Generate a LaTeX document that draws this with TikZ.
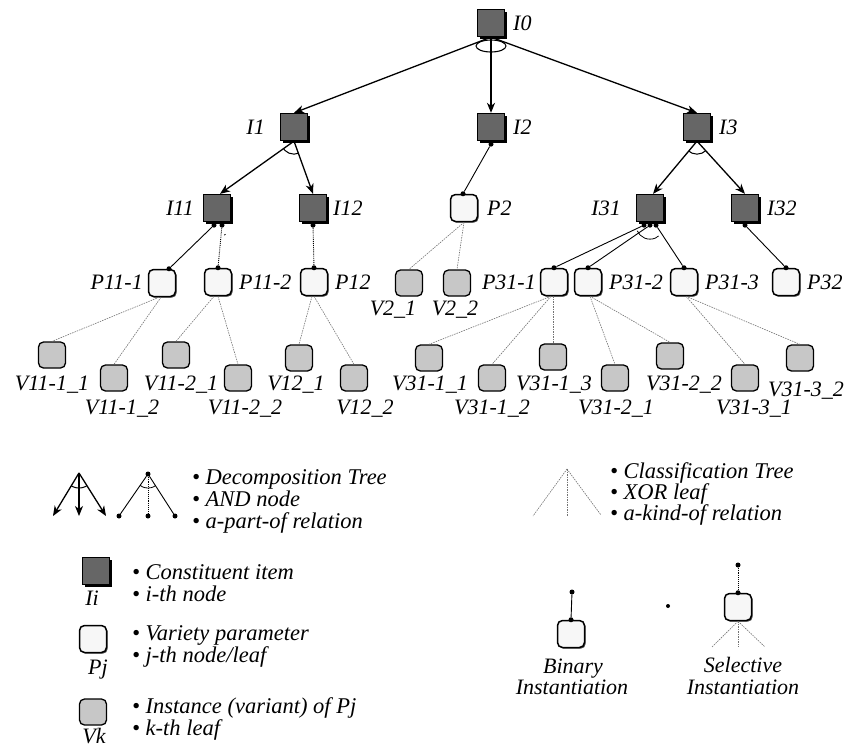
\documentclass[tikz,border=0pt]{standalone}
\usepackage{fontspec}
\setmainfont{Liberation Serif}
\usetikzlibrary{arrows.meta,calc,shadows}

\begin{document}
\begin{tikzpicture}[x=1pt,y=-1pt,
  item/.style={draw=black, line width=1.3pt, fill=black!60, minimum size=27pt, inner sep=0pt,
    drop shadow={shadow xshift=2.5pt, shadow yshift=-2.5pt, fill=black, opacity=1}},
  param/.style={draw=black, line width=1.5pt, fill=black!3, rounded corners=5pt, minimum size=27pt, inner sep=0pt,
    drop shadow={shadow xshift=1.2pt, shadow yshift=-1.2pt, fill=black!70, opacity=1}},
  inst/.style={draw=black, line width=1.3pt, fill=black!22, rounded corners=5pt,
    minimum width=27pt, minimum height=26pt, inner sep=0pt},
  dot/.style={circle, fill=black, inner sep=0pt, minimum size=5pt},
  lbl/.style={font=\fontsize{22}{24}\selectfont\itshape, inner sep=0pt},
  leg/.style={font=\fontsize{22.5}{24}\selectfont\itshape, inner sep=0pt, anchor=base west},
  part/.style={-{Stealth[length=10pt,width=8pt,inset=3pt]}, line width=1.3pt},
  bin/.style={line width=0.9pt},
  kind/.style={draw=black!55, line width=0.6pt, dash pattern=on 1.5pt off 1pt},
]
\fill[white] (0,0) rectangle (847,748);
\useasboundingbox (0,0) rectangle (847,748);

% ---------- constituent items ----------
\node[item] (I0)  at (491,23)  {};
\node[item] (I1)  at (294,127) {};
\node[item] (I2)  at (491,127) {};
\node[item] (I3)  at (697,127) {};
\node[item] (I11) at (217,208) {};
\node[item] (I12) at (313,208) {};
\node[item] (I31) at (650,208) {};
\node[item] (I32) at (745,208) {};

% ---------- variety parameters ----------
\node[param] (P2)   at (464,208) {};
\node[param] (P111) at (162,283) {};
\node[param] (P112) at (218,282) {};
\node[param] (P12)  at (314,282) {};
\node[param] (P311) at (554,282) {};
\node[param] (P312) at (588,282) {};
\node[param] (P313) at (684,282) {};
\node[param] (P32)  at (786,282) {};

% ---------- instances ----------
\node[inst] (V21)   at (409,283) {};
\node[inst] (V22)   at (457,283) {};
\node[inst] (V1111) at (52,355)  {};
\node[inst] (V1112) at (114,378) {};
\node[inst] (V1121) at (176,355) {};
\node[inst] (V1122) at (238,378) {};
\node[inst] (V121)  at (299,358) {};
\node[inst] (V122)  at (354,378) {};
\node[inst] (V3111) at (429,358) {};
\node[inst] (V3112) at (492,378) {};
\node[inst] (V3113) at (553,357) {};
\node[inst] (V3121) at (615,378) {};
\node[inst] (V3122) at (670,356) {};
\node[inst] (V3131) at (745,378) {};
\node[inst] (V3132) at (800,358) {};

% ---------- labels ----------
\node[lbl, anchor=base west] (tI0)  at (513,30.5)  {I0};
\node[lbl, anchor=base east] (tI1)  at (265,134.5) {I1};
\node[lbl, anchor=base west] (tI2)  at (513,134.5) {I2};
\node[lbl, anchor=base west] (tI3)  at (719,134.5) {I3};
\node[lbl, anchor=base east] (tI11) at (194,215.5) {I11};
\node[lbl, anchor=base west] (tI12) at (333,215.5) {I12};
\node[lbl, anchor=base west] (tP2)  at (487,215.5) {P2};
\node[lbl, anchor=base east] (tI31) at (621,215.5) {I31};
\node[lbl, anchor=base west] (tI32) at (767,215.5) {I32};
\node[lbl, anchor=base east] (tP111) at (143,289.5) {P11-1};
\node[lbl, anchor=base west] (tP112) at (239,289.5) {P11-2};
\node[lbl, anchor=base west] (tP12)  at (335,289.5) {P12};
\node[lbl, anchor=base east] (tP311) at (536,289.5) {P31-1};
\node[lbl, anchor=base west] (tP312) at (609,289.5) {P31-2};
\node[lbl, anchor=base west] (tP313) at (705,289.5) {P31-3};
\node[lbl, anchor=base west] (tP32)  at (807,289.5) {P32};
\node[lbl, anchor=base] (tV21)  at (393,315.5) {V2\_1};
\node[lbl, anchor=base] (tV22)  at (455,315.5) {V2\_2};
\node[lbl, anchor=base] (tV1111) at (52,390.5)  {V11-1\_1};
\node[lbl, anchor=base] (tV1121) at (181,390.5) {V11-2\_1};
\node[lbl, anchor=base] (tV121)  at (296,390.5) {V12\_1};
\node[lbl, anchor=base] (tV3111) at (430,390.5) {V31-1\_1};
\node[lbl, anchor=base] (tV3113) at (554,390.5) {V31-1\_3};
\node[lbl, anchor=base] (tV3122) at (684,390.5) {V31-2\_2};
\node[lbl, anchor=base] (tV3132) at (806,396.5) {V31-3\_2};
\node[lbl, anchor=base] (tV1112) at (122,414.5) {V11-1\_2};
\node[lbl, anchor=base] (tV1122) at (245,414.5) {V11-2\_2};
\node[lbl, anchor=base] (tV122)  at (365,414.5) {V12\_2};
\node[lbl, anchor=base] (tV3112) at (492,414.5) {V31-1\_2};
\node[lbl, anchor=base] (tV3121) at (616,414.5) {V31-2\_1};
\node[lbl, anchor=base] (tV3131) at (754,414.5) {V31-3\_1};

% ---------- decomposition (AND) arrows ----------
\draw[part] (I0.south) -- (I1.north);
\draw[part] (I0.south) -- (I2.north);
\draw[part] (I0.south) -- (I3.north);
\draw[line width=1.1pt] (491,46) ellipse[x radius=15pt, y radius=6pt];

\coordinate (I11t) at ($(I11.north)+(3,0)$);
\draw[part] (I1.south) -- (I11t);
\draw[part] (I1.south) -- (I12.north);
\begin{scope}
  \clip (I1.south) -- ($(I1.south)!3!(I11t)$) -- ($(I1.south)!3!(I12.north)$) -- cycle;
  \draw[line width=1pt] (I1.south) circle[radius=13pt];
\end{scope}

\coordinate (I31t) at ($(I31.north)+(3,0)$);
\draw[part] (I3.south) -- (I31t);
\draw[part] (I3.south) -- (I32.north);
\begin{scope}
  \clip (I3.south) -- ($(I3.south)!3!(I31t)$) -- ($(I3.south)!3!(I32.north)$) -- cycle;
  \draw[line width=1pt] (I3.south) circle[radius=13pt];
\end{scope}

% ---------- binary instantiation links ----------
\node[dot] (dI2)   at ($(I2.south)+(0,3)$) {};
\node[dot] (dP2)   at ($(P2.north)+(-1,0)$) {};
\draw[bin] (dI2) -- (dP2);

\node[dot] (dI11a) at ($(I11.south)+(-3,3)$) {};
\node[dot] (dI11b) at ($(I11.south)+(5,3)$) {};
\node[dot] (dP111) at ($(P111.north)+(7,0)$) {};
\node[dot] (dP112) at (P112.north) {};
\draw[bin] (dI11a) -- (dP111);
\draw[bin, densely dotted] (dI11b) -- (dP112);
\begin{scope}
  \clip ($(I11.south)+(1,3)$) -- ($(I11.south)+(1,3)!4!(dP111)$) -- ($(I11.south)+(1,3)!4!(dP112)$) -- cycle;
  \draw[line width=0.8pt] ($(I11.south)+(1,3)$) circle[radius=12pt];
\end{scope}

\node[dot] (dI12) at ($(I12.south)+(0,3)$) {};
\node[dot] (dP12) at (P12.north) {};
\draw[bin, densely dotted] (dI12) -- (dP12);

\node[dot] (dI31a) at ($(I31.south)+(-6,3)$) {};
\node[dot] (dI31b) at ($(I31.south)+(0,3)$) {};
\node[dot] (dI31c) at ($(I31.south)+(6,3)$) {};
\node[dot] (dP311) at (P311.north) {};
\node[dot] (dP312) at (P312.north) {};
\node[dot] (dP313) at (P313.north) {};
\draw[bin] (dI31a) -- (dP311);
\draw[bin] (dI31b) -- (dP312);
\draw[bin] (dI31c) -- (dP313);
\begin{scope}
  \clip (dI31b.center) -- ($(dI31b.center)!4!(dP311)$) -- ($(dI31b.center)!4!(dP313)$) -- cycle;
  \draw[line width=0.8pt] (dI31b.center) circle[radius=14pt];
\end{scope}

\node[dot] (dI32) at ($(I32.south)+(0,3)$) {};
\node[dot] (dP32) at (P32.north) {};
\draw[bin] (dI32) -- (dP32);

% ---------- classification (XOR) links ----------
\draw[kind] (P2.south) -- (V21.north);
\draw[kind] (P2.south) -- (V22.north);
\draw[kind] ($(P111.south)+(-3,0)$) -- (V1111.north);
\draw[kind] ($(P111.south)+(-1,0)$) -- (V1112.north);
\draw[kind] ($(P112.south)+(-4,0)$) -- (V1121.north);
\draw[kind] (P112.south) -- (V1122.north);
\draw[kind] ($(P12.south)+(-2,0)$) -- (V121.north);
\draw[kind] (P12.south) -- (V122.north);
\draw[kind] ($(P311.south)+(-3,0)$) -- (V3111.north);
\draw[kind] ($(P311.south)+(-3,0)$) -- (V3112.north);
\draw[kind] ($(P311.south)+(-1,0)$) -- (V3113.north);
\draw[kind] ($(P312.south)+(2,0)$) -- (V3121.north);
\draw[kind] ($(P312.south)+(2,0)$) -- (V3122.north);
\draw[kind] ($(P313.south)+(2,0)$) -- (V3131.north);
\draw[kind] ($(P313.south)+(2,0)$) -- (V3132.north);

% ---------- legend: decomposition tree ----------
\coordinate (a1) at (79,473);
\coordinate (a1l) at (53,516);
\coordinate (a1m) at (79,516);
\coordinate (a1r) at (106,516);
\draw[part] (a1) -- (a1l);
\draw[part] (a1) -- (a1m);
\draw[part] (a1) -- (a1r);
\begin{scope}
  \clip (a1) -- ($(a1)!2!(a1l)$) -- ($(a1)!2!(a1r)$) -- cycle;
  \draw[line width=1pt] (a1) circle[radius=15pt];
\end{scope}

\node[dot] (a2)  at (148,474) {};
\node[dot] (a2l) at (119,516) {};
\node[dot] (a2m) at (148,516) {};
\node[dot] (a2r) at (175,516) {};
\draw[bin] (a2) -- (a2l);
\draw[bin, densely dotted] (a2) -- (a2m);
\draw[bin] (a2) -- (a2r);
\begin{scope}
  \clip (a2.center) -- ($(a2.center)!2!(a2l)$) -- ($(a2.center)!2!(a2r)$) -- cycle;
  \draw[line width=0.8pt] (a2.center) circle[radius=14pt];
\end{scope}

\node[leg] (l1) at (192,484.5) {\textbullet\ Decomposition Tree};
\node[leg] (l2) at (192,506.5) {\textbullet\ AND node};
\node[leg] (l3) at (192,528.5) {\textbullet\ a-part-of relation};

% ---------- legend: classification tree ----------
\coordinate (k0) at (567,469);
\coordinate (kl) at (533,516);
\coordinate (km) at (567,516);
\coordinate (kr) at (601,515);
\draw[kind] (k0) -- (kl);
\draw[kind] (k0) -- (km);
\draw[kind] (k0) -- (kr);
\node[leg] (l4) at (610,478.5) {\textbullet\ Classification Tree};
\node[leg] (l5) at (610,499.5) {\textbullet\ XOR leaf};
\node[leg] (l6) at (610,520) {\textbullet\ a-kind-of relation};

% ---------- legend: node kinds ----------
\node[item] (LI) at (96,571) {};
\node[lbl, anchor=base] (tLI) at (92,605.5) {Ii};
\node[leg] (l7) at (132,579.5) {\textbullet\ Constituent item};
\node[leg] (l8) at (132,601.5) {\textbullet\ i-th node};

\node[param] (LP) at (93,639) {};
\node[lbl, anchor=base] (tLP) at (98,674.5) {Pj};
\node[leg] (l9)  at (132,640.5) {\textbullet\ Variety parameter};
\node[leg] (l10) at (132,662.5) {\textbullet\ j-th node/leaf};

\node[inst] (LV) at (93,712) {};
\node[lbl, anchor=base] (tLV) at (94,743) {Vk};
\node[leg] (l11) at (132,713) {\textbullet\ Instance (variant) of Pj};
\node[leg] (l12) at (132,735) {\textbullet\ k-th leaf};

% ---------- legend: instantiation kinds ----------
\node[dot] (bt) at (572,592) {};
\node[param] (BB) at (571,634) {};
\node[dot] (bb) at (BB.north) {};
\draw[bin] (bt) -- (bb);
\node[lbl, anchor=base] (tB1) at (573,673) {Binary};
\node[lbl, anchor=base] (tB2) at (572,694) {Instantiation};

\node[dot, minimum size=4pt] (sd) at (668,606) {};

\node[dot] (st) at (738,565) {};
\node[param] (SB) at (738,607) {};
\node[dot] (sb) at (SB.north) {};
\draw[bin, densely dotted] (st) -- (sb);
\coordinate (sl) at (712,647);
\coordinate (sm) at (738,647);
\coordinate (sr) at (765,647);
\draw[kind] (SB.south) -- (sl);
\draw[kind] (SB.south) -- (sm);
\draw[kind] (SB.south) -- (sr);
\node[lbl, anchor=base] (tS1) at (743,672) {Selective};
\node[lbl, anchor=base] (tS2) at (743,694) {Instantiation};
\end{tikzpicture}
\end{document}
